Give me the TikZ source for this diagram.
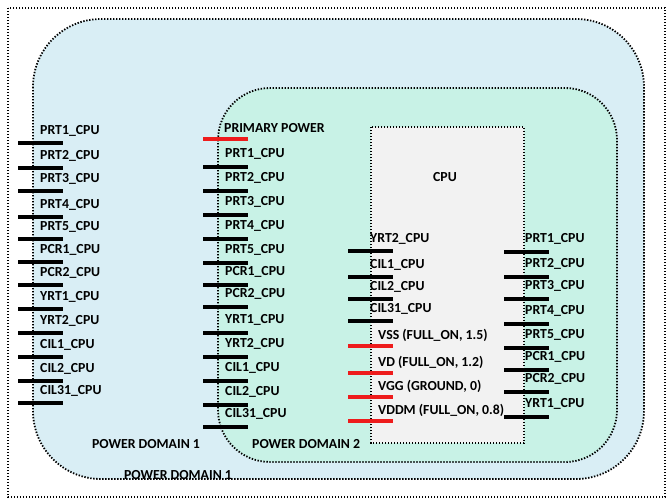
\documentclass[tikz,border=0pt]{standalone}
\usepackage{fontspec}
\setmainfont{Carlito}
\definecolor{dom1}{HTML}{D9EEF5}
\definecolor{dom2}{HTML}{C8F2E6}
\definecolor{cpubg}{HTML}{F2F2F2}
\definecolor{pinred}{HTML}{EE1C1C}
\begin{document}
\begin{tikzpicture}[x=1pt,y=-1pt,
  lbl/.style={anchor=west, font=\bfseries\fontsize{13.8}{16}\selectfont, inner sep=0pt, text=black},
  clbl/.style={anchor=center, font=\bfseries\fontsize{13.8}{16}\selectfont, inner sep=0pt, text=black},
  pinline/.style={line width=3.8pt, black},
  rpinline/.style={line width=3.8pt, pinred},
  dotb/.style={line width=1.8pt, dash pattern=on 1.4pt off 1.6pt}]
\useasboundingbox (0,0) rectangle (670,501);
\fill[white] (0,0) rectangle (670,501);
% outer frame
\draw[dotb] (8,8) rectangle (665,497);
% power domain 1
\draw[dotb, fill=dom1, rounded corners=68pt] (33,19) rectangle (644,479);
% power domain 2
\draw[dotb, fill=dom2, rounded corners=52pt] (218,88) rectangle (617,462);
% CPU box
\draw[dotb, fill=cpubg] (371,127) rectangle (524,443);
\node[clbl] (cpu) at (445,177) {CPU};

% domain labels
\node[clbl] (pd1) at (146,444) {POWER DOMAIN 1};
\node[lbl] (pd2) at (252,444) {POWER DOMAIN 2};
\node[clbl] (pd1b) at (178,475) {POWER DOMAIN 1};

% left column (domain 1)
\foreach \y/\t [count=\i] in {143/PRT1\_CPU,168/PRT2\_CPU,191/PRT3\_CPU,217/PRT4\_CPU,239/PRT5\_CPU,262/PCR1\_CPU,285/PCR2\_CPU,309/YRT1\_CPU,333/YRT2\_CPU,357/CIL1\_CPU,381/CIL2\_CPU,403/CIL31\_CPU}{
  \coordinate (la\i) at (18,\y);
  \coordinate (lb\i) at (63,\y);
  \draw[pinline] (la\i) -- (lb\i);
  \node[lbl] (ll\i) at (40,\y-12) {\t};
}

% middle column (domain 2)
\coordinate (ppa) at (203,139);
\coordinate (ppb) at (248,139);
\draw[rpinline] (ppa) -- (ppb);
\node[lbl] (ppl) at (224,128) {PRIMARY POWER};
\foreach \y/\t [count=\i] in {167/PRT1\_CPU,191/PRT2\_CPU,215/PRT3\_CPU,239/PRT4\_CPU,263/PRT5\_CPU,285/PCR1\_CPU,307/PCR2\_CPU,333/YRT1\_CPU,357/YRT2\_CPU,381/CIL1\_CPU,405/CIL2\_CPU,427/CIL31\_CPU}{
  \coordinate (ma\i) at (203,\y);
  \coordinate (mb\i) at (248,\y);
  \draw[pinline] (ma\i) -- (mb\i);
  \node[lbl] (ml\i) at (225,\y-13) {\t};
}

% CPU left pins
\foreach \y/\t [count=\i] in {251/YRT2\_CPU,277/CIL1\_CPU,299/CIL2\_CPU,321/CIL31\_CPU}{
  \coordinate (ca\i) at (348,\y);
  \coordinate (cb\i) at (393,\y);
  \draw[pinline] (ca\i) -- (cb\i);
  \node[lbl] (cl\i) at (370,\y-12) {\t};
}
\foreach \y/\t [count=\i] in {346/{VSS (FULL\_ON, 1.5)},373/{VD (FULL\_ON, 1.2)},397/{VGG (GROUND, 0)},421/{VDDM (FULL\_ON, 0.8)}}{
  \coordinate (ra\i) at (348,\y);
  \coordinate (rb\i) at (393,\y);
  \draw[rpinline] (ra\i) -- (rb\i);
  \node[lbl] (rl\i) at (378,\y-11) {\t};
}

% CPU right pins
\foreach \y/\t [count=\i] in {252/PRT1\_CPU,277/PRT2\_CPU,299/PRT3\_CPU,324/PRT4\_CPU,348/PRT5\_CPU,370/PCR1\_CPU,392/PCR2\_CPU,417/YRT1\_CPU}{
  \coordinate (sa\i) at (504,\y);
  \coordinate (sb\i) at (549,\y);
  \draw[pinline] (sa\i) -- (sb\i);
  \node[lbl] (sl\i) at (525,\y-13) {\t};
}
\end{tikzpicture}
\end{document}
